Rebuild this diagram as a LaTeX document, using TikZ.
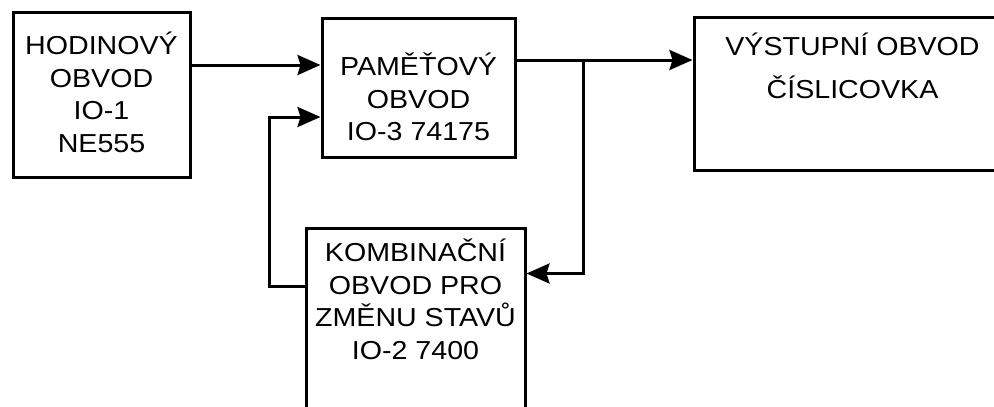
\documentclass[tikz,border=0pt]{standalone}
\usepackage{fontspec}
\setmainfont{Liberation Sans}[FakeStretch=1.1]
\usetikzlibrary{arrows.meta}

\begin{document}
\begin{tikzpicture}[x=1pt, y=-1pt, >={Stealth[length=23pt,width=20pt,inset=3pt]}, line width=3pt,
    blok/.style={draw, rectangle, inner sep=0pt},
    popis/.style={align=center, anchor=north, inner sep=0pt, font=\fontsize{26}{32.5}\selectfont}]
    \useasboundingbox (0,0) rectangle (994,407);
    \clip (0,0) rectangle (994,407);
    % bloky
    \node[blok, minimum width=177, minimum height=165] (hod) at (101.5,94.5) {};
    \node[blok, minimum width=193, minimum height=139] (pam) at (418.5,87.5) {};
    \node[blok, minimum width=317, minimum height=153] (vys) at (852.5,93.5) {};
    \node[blok, minimum width=219, minimum height=212] (komb) at (415.5,334) {};
    % popisy bloku
    \node[popis] (hodtxt) at ([yshift=-20pt]hod.north) {HODINOVÝ\\OBVOD\\IO-1\\NE555};
    \node[popis] (pamtxt) at ([yshift=-35pt]pam.north) {PAMĚŤOVÝ\\OBVOD\\IO-3 74175};
    \node[popis, font=\fontsize{26}{43}\selectfont] (vystxt) at ([yshift=-16pt]vys.north) {VÝSTUPNÍ OBVOD\\ČÍSLICOVKA};
    \node[popis] (kombtxt) at ([yshift=-11pt]komb.north) {KOMBINAČNÍ\\OBVOD PRO\\ZMĚNU STAVŮ\\IO-2 7400};
    % spoje
    \coordinate (odb) at (583,60);
    \coordinate (zlom) at (269,117);
    \draw[->] (hod.east |- 0,65) -- (pam.west |- 0,65);
    \draw[->] (pam.east |- odb) -- (vys.west |- odb);
    \draw[->] (odb) |- ([yshift=-47pt]komb.north east);
    \draw[->] ([yshift=-60pt]komb.north west) -| (zlom) -- (pam.west |- zlom);
\end{tikzpicture}
\end{document}
